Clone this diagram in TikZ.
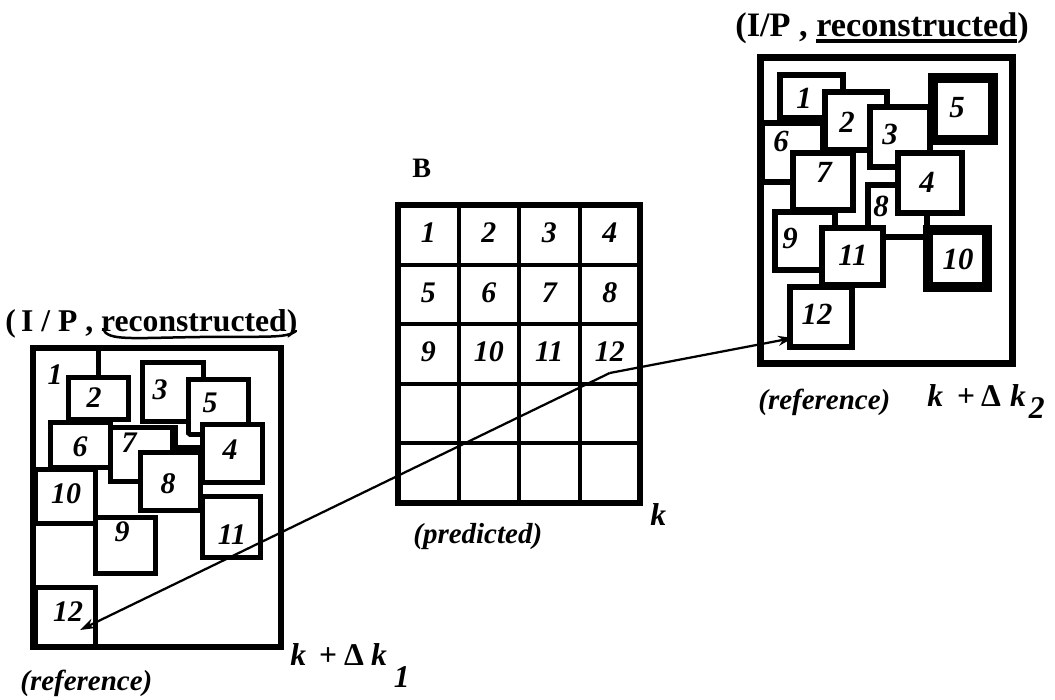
\documentclass[tikz,border=0pt]{standalone}
\usepackage{fontspec}
\setmainfont{Liberation Serif}
\usetikzlibrary{arrows.meta,calc,positioning}
% dicker Balken unter einem Wort
\newcommand{\dickunter}[1]{\setbox0\hbox{#1}\rlap{\raisebox{-1.3mm}{\rule{\wd0}{0.9mm}}}\box0}
\tikzset{
  rahmen/.style={draw, line width=1.2mm},
  blk/.style={draw, fill=white, line width=1mm},
  blkR/.style={blk, line width=1.2mm},
  dick/.style={line width=1.9mm},
  gitter/.style={line width=0.8mm},
  num/.style={font=\fontsize{17}{17}\selectfont\bfseries\itshape, inner sep=0pt},
  numR/.style={num, font=\fontsize{17.5}{17}\selectfont\bfseries\itshape},
  ttl/.style={font=\fontsize{18}{20}\selectfont\bfseries, anchor=base west, inner sep=0pt},
  note/.style={font=\fontsize{16.5}{18}\selectfont\bfseries\itshape, anchor=base west, inner sep=0pt},
  zeit/.style={font=\fontsize{18}{20}\selectfont\bfseries, anchor=base west, inner sep=0pt},
  mv/.style={line width=0.45mm, -{Stealth[length=3mm,width=2mm]}}
}

\begin{document}
\begin{tikzpicture}[x=0.2mm, y=-0.2mm]
\useasboundingbox (0,0) rectangle (1055,700);
%Koordinaten in Pixeln, y zeigt nach unten
%Referenzbild k+dk1 (links)
\node[ttl] (ttlL) at (5,332) {(\,I / P , reconstructed)};
\draw[line width=0.5mm, line cap=round] (103,329) .. controls (108,341) and (130,338) .. (200,337) .. controls (262,336) and (286,339) .. (296,331);
\foreach \n/\xa/\ya/\xb/\yb in {2/68/378/128/420, 3/142/363/203/422, 5/188/380/248/435, 6/50/423/110/468, 7/110/428/172/482, 4/202/425/262/483, 8/140/453/200/510, 10/35/470/95/523, 9/95/517/155/573, 11/202/497/260/557, 12/35/587/95/647}{
  \draw[blk] (\xa,\ya) rectangle (\xb,\yb);
}
\draw[blk] (98,348) -- (98,378);
\draw[blk] (175,425) |- (202,448);
\draw[rahmen] (33,348) rectangle (281,647);
\foreach \n/\lx/\ly in {1/55/375, 2/94/398, 3/160/390, 5/210/403, 6/80/447, 7/129/443, 4/230/450, 8/168/484, 10/66/494, 9/122/532, 11/232/535, 12/68/612}{
  \node[num] (L\n) at (\lx,\ly) {\n};
}
\node[note] (refL) at (20,690) {(reference)};
\node[zeit] (kL) at (290,665) {\textit{k}\hspace{2.6mm}+\hspace{1.4mm}Δ\hspace{1.4mm}\textit{k}\hspace{1.4mm}\raisebox{-4.4mm}{\textit{1}}};

%Praediziertes Bild B (Mitte), 4x5 Bloecke
\pgfmathsetmacro{\bx}{60.5}
\pgfmathsetmacro{\by}{59.6}
\node[ttl, font=\fontsize{16}{17}\selectfont\bfseries] (B) at (412,178) {B};
\foreach \i in {1,2,3} \draw[gitter] ({398+\bx*\i},205) -- ++(0,298);
\foreach \j in {1,...,4} \draw[gitter] (398,{205+\by*\j}) -- ++(242,0);
\draw[rahmen] (398,205) rectangle (640,503);
\foreach \n in {1,...,12}{
  \pgfmathtruncatemacro\sp{mod(\n-1,4)}
  \pgfmathtruncatemacro\ze{(\n-1)/4}
  \node[num] (M\n) at ({398+\bx*(\sp+0.5)},{205+\by*(\ze+0.5)-2}) {\n};
}
\node[zeit] (kM) at (650,525) {\textit{k}};
\node[note] (pred) at (413,543) {(predicted)};

%Referenzbild k+dk2 (rechts)
\node[ttl, font=\fontsize{19.5}{21}\selectfont\bfseries] (ttlR) at (735,37) {(I/P , \dickunter{reconstructed})};
\foreach \n/\xa/\ya/\xb/\yb in {1/780/75/843/118, 2/825/92/887/150, 6/762/123/823/182, 3/870/107/930/167, 7/793/153/853/210, 8/868/185/927/237, 4/898/153/962/213, 9/775/212/835/270, 11/822/228/883/285, 12/790/287/852/347}{
  \draw[blkR] (\xa,\ya) rectangle (\xb,\yb);
}
\draw[blkR,dick] (933,78) rectangle (993,140);
\draw[blkR,dick] (928,230) rectangle (987,287);
\draw[rahmen, line width=1.4mm] (760,58) rectangle (1012,364);
\foreach \n/\lx/\ly in {1/804/98, 2/847/122, 3/890/134, 5/957/108, 6/781/141, 7/824/172, 4/927/182, 8/881/206, 9/790/238, 11/853/255, 10/958/259, 12/817/314}{
  \node[numR] (R\n) at (\lx,\ly) {\n};
}
\node[note] (refR) at (758,410) {(reference)};
\node[zeit] (kR) at (927,407) {\textit{k}\hspace{2.8mm}+\hspace{1.2mm}Δ\hspace{1.8mm}\textit{k}\hspace{0.6mm}\raisebox{-2.4mm}{\textit{2}}};

%Bewegungsvektoren von Block 12
\coordinate (mv) at ($(M12)+(0,21)$);
\coordinate (tipL) at ($(L12)+(12,18)$);
\coordinate (tipR) at ($(R12)+(-24,24)$);
\draw[mv] (mv) -- (tipL);
\draw[mv] (mv) -- (tipR);
\end{tikzpicture}
\end{document}
